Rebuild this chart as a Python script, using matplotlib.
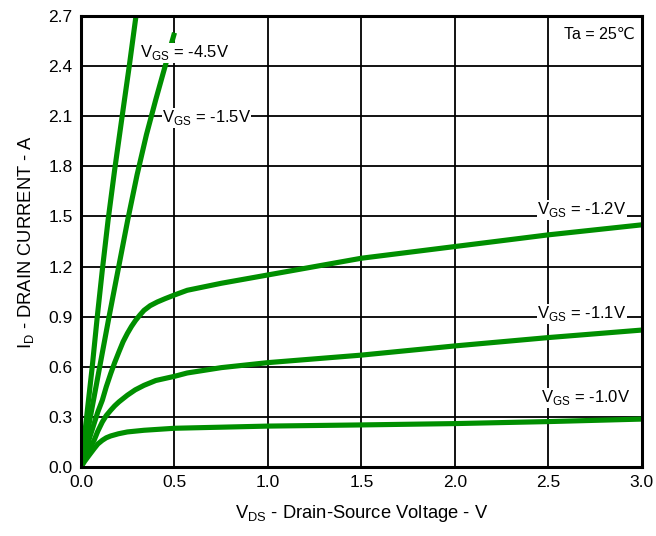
import matplotlib
matplotlib.use("Agg")
import matplotlib.pyplot as plt

plt.rcParams['font.family'] = ['Liberation Sans', 'DejaVu Sans', 'Noto Sans CJK SC']

# output characteristics, V_DS (V) vs I_D (A), one curve per gate voltage
vds_45 = [0.0, 0.03, 0.06, 0.087, 0.114, 0.145, 0.18, 0.22, 0.258, 0.294]
id_45 = [0.0, 0.30, 0.60, 0.90, 1.18, 1.48, 1.78, 2.10, 2.40, 2.70]

vds_15 = [0.0, 0.05, 0.10, 0.15, 0.20, 0.25, 0.30, 0.35, 0.40, 0.45, 0.50]
id_15 = [0.0, 0.30, 0.60, 0.90, 1.19, 1.48, 1.75, 1.99, 2.20, 2.40, 2.60]

vds_12 = [0.0, 0.025, 0.05, 0.07, 0.09, 0.114, 0.135, 0.159, 0.18, 0.203, 0.225, 0.248, 0.27,
          0.292, 0.315, 0.337, 0.37, 0.408, 0.45, 0.50, 0.568, 0.75, 1.0, 1.5, 2.0, 2.5, 3.0]
id_12 = [0.0, 0.10, 0.19, 0.26, 0.33, 0.40, 0.48, 0.56, 0.625, 0.69, 0.75, 0.80, 0.842,
         0.878, 0.91, 0.938, 0.966, 0.988, 1.008, 1.03, 1.058, 1.10, 1.15, 1.25, 1.32, 1.39, 1.45]

vds_11 = [0.0, 0.025, 0.05, 0.07, 0.09, 0.114, 0.135, 0.159, 0.18, 0.203, 0.248, 0.29, 0.337,
          0.40, 0.50, 0.568, 0.75, 1.0, 1.5, 2.0, 2.5, 3.0]
id_11 = [0.0, 0.065, 0.12, 0.16, 0.215, 0.27, 0.308, 0.34, 0.366, 0.39, 0.43, 0.462, 0.489,
         0.518, 0.543, 0.563, 0.595, 0.625, 0.67, 0.725, 0.775, 0.82]

vds_10 = [0.0, 0.02, 0.043, 0.07, 0.09, 0.114, 0.135, 0.159, 0.20, 0.248, 0.337, 0.50,
          1.0, 1.5, 2.0, 2.5, 3.0]
id_10 = [0.0, 0.035, 0.07, 0.11, 0.138, 0.16, 0.175, 0.186, 0.199, 0.21, 0.22, 0.232,
         0.245, 0.252, 0.26, 0.272, 0.287]

curves = [(vds_45, id_45), (vds_15, id_15), (vds_12, id_12), (vds_11, id_11), (vds_10, id_10)]

# label text and where it sits (left edge x, centre y)
labels = ["V$_{\\mathregular{GS}}$ = -4.5V", "V$_{\\mathregular{GS}}$ = -1.5V",
          "V$_{\\mathregular{GS}}$ = -1.2V", "V$_{\\mathregular{GS}}$ = -1.1V",
          "V$_{\\mathregular{GS}}$ = -1.0V"]
label_x = [0.316, 0.433, 2.44, 2.44, 2.46]
label_y = [2.48, 2.09, 1.54, 0.917, 0.415]

xticks = [0.0, 0.5, 1.0, 1.5, 2.0, 2.5, 3.0]
yticks = [0.0, 0.3, 0.6, 0.9, 1.2, 1.5, 1.8, 2.1, 2.4, 2.7]

green = '#008f00'

fig = plt.figure(figsize=(6.56, 5.36), dpi=100)
ax = fig.add_axes([0.1235, 0.1287, 0.855, 0.8414])

for vx, iy in curves:
    ax.plot(vx, iy, color=green, lw=3.7, solid_capstyle='butt', solid_joinstyle='round', zorder=3)

for txt, lx, ly in zip(labels, label_x, label_y):
    ax.text(lx, ly, txt, fontsize=12, ha='left', va='center', zorder=4,
            bbox=dict(boxstyle='square,pad=0.02', fc='white', ec='none'))

ax.text(0.987, 0.975, "Ta = 25℃", transform=ax.transAxes, ha='right', va='top',
        fontsize=11.5, family=['Liberation Sans', 'DejaVu Sans'], zorder=4)

ax.set_xlim(0, 3.0)
ax.set_ylim(0, 2.7)
ax.set_xticks(xticks)
ax.set_yticks(yticks)
ax.set_xticklabels(["%.1f" % v for v in xticks])
ax.set_yticklabels(["%.1f" % v for v in yticks])
ax.tick_params(length=0, labelsize=12.5, pad=6)
ax.grid(True, color='black', lw=1.3, zorder=1)
ax.set_axisbelow(True)
for s in ax.spines.values():
    s.set_linewidth(2.2)
    s.set_zorder(5)

ax.set_xlabel("V$_{\\mathregular{DS}}$ - Drain-Source Voltage - V", fontsize=13.2, labelpad=9)
ax.set_ylabel("I$_{\\mathregular{D}}$ - DRAIN CURRENT - A", fontsize=13.2, labelpad=9)

fig.savefig("out.png", dpi=100)
